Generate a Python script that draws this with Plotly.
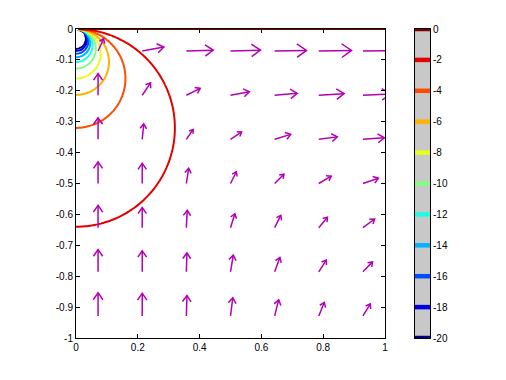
import numpy as np
import plotly.graph_objects as go

# ---------------- data ----------------
X_TICKS = [0, 0.2, 0.4, 0.6, 0.8, 1]
X_TICK_LABELS = ["0", "0.2", "0.4", "0.6", "0.8", "1"]
Y_TICKS = [0, -0.1, -0.2, -0.3, -0.4, -0.5, -0.6, -0.7, -0.8, -0.9, -1]
Y_TICK_LABELS = ["0", "-0.1", "-0.2", "-0.3", "-0.4", "-0.5", "-0.6", "-0.7", "-0.8", "-0.9", "-1"]

CONTOUR_LEVELS = [0, -2, -4, -6, -8, -10, -12, -14, -16, -18, -20]
CONTOUR_LABELS = ["0", "-2", "-4", "-6", "-8", "-10", "-12", "-14", "-16", "-18", "-20"]

# potential phi = k * y / (x^2 + y^2); the -2 contour meets the y axis at -0.64
DIPOLE_STRENGTH = 1.28

# quiver grid (arrow tails) and arrow components
QUIVER_X = [0.0714, 0.2143, 0.3571, 0.5, 0.6429, 0.7857, 0.9286]
QUIVER_Y = [-0.0714, -0.2143, -0.3571, -0.5, -0.6429, -0.7857, -0.9286]
QUIVER_U = [
    [0.018, 0.070, 0.087, 0.097, 0.103, 0.106, 0.108],
    [0.000, 0.027, 0.045, 0.061, 0.073, 0.082, 0.088],
    [0.000, 0.005, 0.022, 0.036, 0.052, 0.060, 0.069],
    [0.000, 0.000, 0.0075, 0.019, 0.030, 0.040, 0.050],
    [0.000, 0.000, 0.003, 0.014, 0.020, 0.028, 0.038],
    [0.000, 0.000, 0.002, 0.009, 0.017, 0.024, 0.031],
    [0.000, 0.000, 0.002, 0.0075, 0.013, 0.018, 0.024],
]
QUIVER_V = [
    [0.040, 0.013, 0.003, 0.003, 0.002, 0.002, 0.001],
    [0.070, 0.040, 0.022, 0.011, 0.006, 0.005, 0.004],
    [0.070, 0.050, 0.032, 0.024, 0.016, 0.008, 0.005],
    [0.070, 0.065, 0.049, 0.038, 0.030, 0.024, 0.017],
    [0.072, 0.065, 0.056, 0.045, 0.040, 0.034, 0.028],
    [0.072, 0.068, 0.061, 0.054, 0.046, 0.038, 0.032],
    [0.075, 0.073, 0.066, 0.059, 0.052, 0.044, 0.039],
]


# ---------------- helpers ----------------
def jet(t):
    r = np.clip(1.5 - abs(4 * t - 3), 0, 1)
    g = np.clip(1.5 - abs(4 * t - 2), 0, 1)
    b = np.clip(1.5 - abs(4 * t - 1), 0, 1)
    return "rgb(%d,%d,%d)" % (round(r * 255), round(g * 255), round(b * 255))


ZMIN, ZMAX = min(CONTOUR_LEVELS), max(CONTOUR_LEVELS)
JET_SCALE = [[t, jet(t)] for t in np.linspace(0, 1, 65)]

# field grid (0.01 spacing, one extra row just above y = 0 for the zero contour)
xg = np.linspace(0, 1, 101)
yg = np.concatenate([np.linspace(-1, 0, 101), [0.01]])
XX, YY = np.meshgrid(xg, yg)
with np.errstate(divide="ignore", invalid="ignore"):
    PHI = DIPOLE_STRENGTH * YY / (XX ** 2 + YY ** 2)
PHI[~np.isfinite(PHI)] = np.nan

fig = go.Figure()

fig.add_trace(go.Contour(
    x=xg, y=yg, z=PHI,
    zmin=ZMIN, zmax=ZMAX,
    colorscale=JET_SCALE,
    contours=dict(start=ZMIN, end=ZMAX, size=2, coloring="lines"),
    line=dict(width=2, smoothing=0.6),
    showscale=False,
    hoverinfo="skip",
    xaxis="x", yaxis="y",
))

# quiver arrows
HEAD_BACK, HEAD_SIDE = 0.30, 0.21
qx, qy = [], []
for j, y0 in enumerate(QUIVER_Y):
    for i, x0 in enumerate(QUIVER_X):
        u, v = QUIVER_U[j][i], QUIVER_V[j][i]
        L = np.hypot(u, v)
        dx, dy = u / L, v / L
        tx, ty = x0 + u, y0 + v
        bx, by = tx - HEAD_BACK * L * dx, ty - HEAD_BACK * L * dy
        nx, ny = -dy * HEAD_SIDE * L, dx * HEAD_SIDE * L
        qx += [x0, tx, None, bx + nx, tx, bx - nx, None]
        qy += [y0, ty, None, by + ny, ty, by - ny, None]

fig.add_trace(go.Scatter(
    x=qx, y=qy, mode="lines",
    line=dict(color="rgb(178,0,178)", width=1.5),
    hoverinfo="skip", showlegend=False,
    xaxis="x", yaxis="y",
))

# colorbar level bands
for lev in CONTOUR_LEVELS:
    fig.add_trace(go.Scatter(
        x=[0, 1], y=[lev, lev], mode="lines",
        line=dict(color=jet((lev - ZMIN) / (ZMAX - ZMIN)), width=4.5),
        hoverinfo="skip", showlegend=False,
        xaxis="x2", yaxis="y2",
    ))

W, H = 506, 380
main_x = [76 / W, 385 / W]
main_y = [(H - 338) / H, (H - 29) / H]
cb_x = [415 / W, 430 / W]

font = dict(family="Liberation Sans, Arial, sans-serif", size=10, color="black")
common = dict(showgrid=False, zeroline=False, showline=True, linecolor="black",
              linewidth=1, automargin=False, tickfont=font)

fig.update_layout(
    width=W, height=H,
    margin=dict(l=0, r=0, t=0, b=0),
    paper_bgcolor="white", plot_bgcolor="white",
    showlegend=False,
    xaxis=dict(domain=main_x, range=[0, 1], anchor="y",
               tickvals=X_TICKS, ticktext=X_TICK_LABELS,
               ticks="inside", ticklen=4, tickcolor="black", mirror="ticks", **common),
    yaxis=dict(domain=main_y, range=[-1, 0], anchor="x",
               tickvals=Y_TICKS, ticktext=Y_TICK_LABELS,
               ticks="inside", ticklen=4, tickcolor="black", mirror="ticks", **common),
    xaxis2=dict(domain=cb_x, range=[0, 1], anchor="y2",
                showticklabels=False, ticks="", mirror=True, **common),
    yaxis2=dict(domain=main_y, range=[ZMIN, ZMAX], anchor="x2", side="right",
                tickvals=CONTOUR_LEVELS, ticktext=CONTOUR_LABELS,
                ticks="", mirror=True, **common),
    shapes=[dict(type="rect", xref="x2 domain", yref="y2 domain",
                 x0=0, x1=1, y0=0, y1=1, fillcolor="rgb(200,200,200)",
                 line=dict(width=0), layer="below")],
)

fig.write_html("out.html", config={"displayModeBar": False},
               post_script="document.body.style.margin='0px';")
